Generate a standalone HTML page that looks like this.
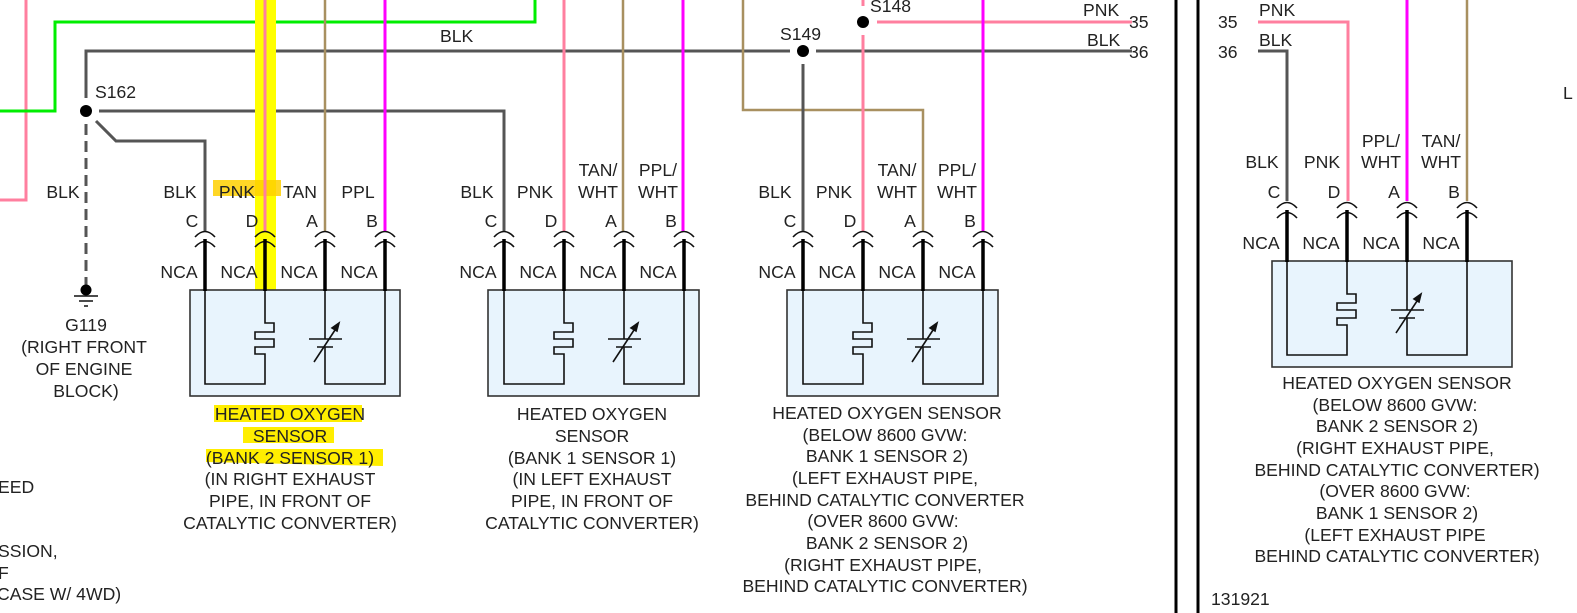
<!DOCTYPE html>
<html><head><meta charset="utf-8"><style>
html,body{margin:0;padding:0;background:#fff;width:1577px;height:613px;overflow:hidden}
svg{display:block}
text{font-family:"Liberation Sans",sans-serif;font-size:17.6px;fill:#222}
</style></head><body>
<svg width="1577" height="613" viewBox="0 0 1577 613" xmlns="http://www.w3.org/2000/svg">
<defs>
<g id="conn">
<path d="M-10,237 Q0,226 10,237 M-10,247 Q0,236 10,247" fill="none" stroke="#111" stroke-width="1.6"/>
<line x1="0" y1="239" x2="0" y2="291" stroke="#000" stroke-width="3.5"/>
</g>
<g id="inner" fill="none" stroke="#111" stroke-width="1.6">
<path d="M0,290 V384 H60 V354 H50 V347 H69 V339 H50 V332 H69 V323 H60 V290"/>
<path d="M120,290 V339 M120,347 V384 H180 V290"/>
<path d="M104,339 H137 M112,347 H128"/>
<path d="M109,362 L132,327"/>
<path d="M134,323 L127,328 L132,331 Z" fill="#111"/>
</g>
<g id="nca">
<text x="-26" y="278" text-anchor="middle">NCA</text>
<text x="34" y="278" text-anchor="middle">NCA</text>
<text x="94" y="278" text-anchor="middle">NCA</text>
<text x="154" y="278" text-anchor="middle">NCA</text>
<text x="-13" y="227" text-anchor="middle">C</text>
<text x="47" y="227" text-anchor="middle">D</text>
<text x="107" y="227" text-anchor="middle">A</text>
<text x="167" y="227" text-anchor="middle">B</text>
</g>
</defs>

<path d="M26,0 V200 H0" fill="none" stroke="#ff7f9f" stroke-width="3"/>
<path d="M0,111 H55 V22 H535 V0" fill="none" stroke="#00ee00" stroke-width="3"/>
<path d="M86,98 V51 H1132" fill="none" stroke="#555" stroke-width="3"/>
<path d="M99,111 H504 V231" fill="none" stroke="#555" stroke-width="3"/>
<path d="M96,121 L116,141 H205 V231" fill="none" stroke="#555" stroke-width="3"/>
<line x1="86" y1="124" x2="86" y2="285" stroke="#555" stroke-width="3" stroke-dasharray="11,6"/>
<circle cx="86" cy="111" r="6" fill="#000"/>
<circle cx="86" cy="290" r="5.5" fill="#000"/>
<path d="M74,296 H98 M79,301 H93 M84,306 H88" stroke="#111" stroke-width="1.5"/>

<rect x="255" y="0" width="21" height="290" fill="#ffff00"/>
<rect x="213" y="180" width="68" height="16" fill="#ffd000" opacity="0.85"/>
<line x1="265" y1="0" x2="265" y2="231" stroke="#ff7f9f" stroke-width="3"/>
<line x1="325" y1="0" x2="325" y2="231" stroke="#a89060" stroke-width="2.5"/>
<line x1="385" y1="0" x2="385" y2="231" stroke="#ff00ff" stroke-width="3"/>

<line x1="564" y1="0" x2="564" y2="231" stroke="#ff7f9f" stroke-width="3"/>
<line x1="623" y1="0" x2="623" y2="231" stroke="#a89060" stroke-width="2.5"/>
<line x1="683" y1="0" x2="683" y2="231" stroke="#ff00ff" stroke-width="3"/>

<path d="M743,0 V110 H923 V231" fill="none" stroke="#a89060" stroke-width="2.5"/>
<line x1="803" y1="64" x2="803" y2="231" stroke="#555" stroke-width="3"/>
<line x1="863" y1="0" x2="863" y2="10" stroke="#ff7f9f" stroke-width="3" stroke-dasharray="6,4"/>
<line x1="863" y1="35" x2="863" y2="231" stroke="#ff7f9f" stroke-width="3"/>
<line x1="877" y1="22" x2="1132" y2="22" stroke="#ff7f9f" stroke-width="3"/>
<line x1="983" y1="0" x2="983" y2="231" stroke="#ff00ff" stroke-width="3"/>
<rect x="790" y="44" width="26" height="14" fill="#fff"/>
<line x1="790" y1="51" x2="816" y2="51" stroke="#fff" stroke-width="5"/>
<circle cx="803" cy="51" r="6" fill="#000"/>
<rect x="850" y="12" width="26" height="20" fill="#fff"/>
<circle cx="863" cy="22" r="6" fill="#000"/>

<line x1="1176" y1="0" x2="1176" y2="613" stroke="#000" stroke-width="3"/>
<line x1="1198" y1="0" x2="1198" y2="613" stroke="#000" stroke-width="3"/>

<path d="M1258,22 H1348 V201" fill="none" stroke="#ff7f9f" stroke-width="3"/>
<path d="M1258,51 H1287 V201" fill="none" stroke="#555" stroke-width="3"/>
<line x1="1407" y1="0" x2="1407" y2="201" stroke="#ff00ff" stroke-width="3"/>
<line x1="1467" y1="0" x2="1467" y2="201" stroke="#a89060" stroke-width="2.5"/>

<g transform="translate(205,0)">
<rect x="-15" y="290" width="210" height="106" fill="#e8f4fd" stroke="#333" stroke-width="1.6"/>
<use href="#inner"/><use href="#conn"/><use href="#conn" x="60"/><use href="#conn" x="120"/><use href="#conn" x="180"/><use href="#nca"/>
</g>
<g transform="translate(504,0)">
<rect x="-16" y="290" width="211" height="106" fill="#e8f4fd" stroke="#333" stroke-width="1.6"/>
<use href="#inner"/><use href="#conn"/><use href="#conn" x="60"/><use href="#conn" x="120"/><use href="#conn" x="180"/><use href="#nca"/>
</g>
<g transform="translate(803,0)">
<rect x="-16" y="290" width="211" height="106" fill="#e8f4fd" stroke="#333" stroke-width="1.6"/>
<use href="#inner"/><use href="#conn"/><use href="#conn" x="60"/><use href="#conn" x="120"/><use href="#conn" x="180"/><use href="#nca"/>
</g>
<g transform="translate(1287,-29)">
<rect x="-15" y="290" width="240" height="106" fill="#e8f4fd" stroke="#333" stroke-width="1.6"/>
<use href="#inner"/><use href="#conn"/><use href="#conn" x="60"/><use href="#conn" x="120"/><use href="#conn" x="180"/><use href="#nca"/>
</g>

<text x="95" y="98">S162</text>
<text x="440" y="42">BLK</text>
<text x="780" y="40">S149</text>
<text x="870" y="12">S148</text>
<text x="1083" y="16">PNK</text>
<text x="1087" y="46">BLK</text>
<text x="1129" y="28">35</text>
<text x="1129" y="58">36</text>
<text x="1218" y="28">35</text>
<text x="1218" y="58">36</text>
<text x="1259" y="16">PNK</text>
<text x="1259" y="46">BLK</text>
<text x="1563" y="99">L</text>

<text x="63" y="198" text-anchor="middle">BLK</text>
<text x="180" y="198" text-anchor="middle">BLK</text>
<text x="237" y="198" text-anchor="middle">PNK</text>
<text x="300" y="198" text-anchor="middle">TAN</text>
<text x="358" y="198" text-anchor="middle">PPL</text>
<text x="477" y="198" text-anchor="middle">BLK</text>
<text x="535" y="198" text-anchor="middle">PNK</text>
<text x="598" y="176" text-anchor="middle">TAN/</text>
<text x="598" y="198" text-anchor="middle">WHT</text>
<text x="658" y="176" text-anchor="middle">PPL/</text>
<text x="658" y="198" text-anchor="middle">WHT</text>
<text x="775" y="198" text-anchor="middle">BLK</text>
<text x="834" y="198" text-anchor="middle">PNK</text>
<text x="897" y="176" text-anchor="middle">TAN/</text>
<text x="897" y="198" text-anchor="middle">WHT</text>
<text x="957" y="176" text-anchor="middle">PPL/</text>
<text x="957" y="198" text-anchor="middle">WHT</text>
<text x="1262" y="168" text-anchor="middle">BLK</text>
<text x="1322" y="168" text-anchor="middle">PNK</text>
<text x="1381" y="147" text-anchor="middle">PPL/</text>
<text x="1381" y="168" text-anchor="middle">WHT</text>
<text x="1441" y="147" text-anchor="middle">TAN/</text>
<text x="1441" y="168" text-anchor="middle">WHT</text>

<g text-anchor="middle">
<text x="86" y="331">G119</text>
<text x="84" y="353">(RIGHT FRONT</text>
<text x="84" y="375">OF ENGINE</text>
<text x="86" y="397">BLOCK)</text>
</g>

<path d="M214,405 H362 V422 H214 Z M243,427 H334 V443 H243 Z M206,449 H383 L383,466 L206,462 Z" fill="#ffee00"/>

<g text-anchor="middle">
<text x="290" y="420">HEATED OXYGEN</text>
<text x="290" y="442">SENSOR</text>
<text x="290" y="464">(BANK 2 SENSOR 1)</text>
<text x="290" y="485">(IN RIGHT EXHAUST</text>
<text x="290" y="507">PIPE, IN FRONT OF</text>
<text x="290" y="529">CATALYTIC CONVERTER)</text>

<text x="592" y="420">HEATED OXYGEN</text>
<text x="592" y="442">SENSOR</text>
<text x="592" y="464">(BANK 1 SENSOR 1)</text>
<text x="592" y="485">(IN LEFT EXHAUST</text>
<text x="592" y="507">PIPE, IN FRONT OF</text>
<text x="592" y="529">CATALYTIC CONVERTER)</text>

<text x="887" y="419">HEATED OXYGEN SENSOR</text>
<text x="885" y="441">(BELOW 8600 GVW:</text>
<text x="887" y="462">BANK 1 SENSOR 2)</text>
<text x="885" y="484">(LEFT EXHAUST PIPE,</text>
<text x="885" y="506">BEHIND CATALYTIC CONVERTER</text>
<text x="883" y="527">(OVER 8600 GVW:</text>
<text x="887" y="549">BANK 2 SENSOR 2)</text>
<text x="883" y="571">(RIGHT EXHAUST PIPE,</text>
<text x="885" y="592">BEHIND CATALYTIC CONVERTER)</text>

<text x="1397" y="389">HEATED OXYGEN SENSOR</text>
<text x="1395" y="411">(BELOW 8600 GVW:</text>
<text x="1397" y="432">BANK 2 SENSOR 2)</text>
<text x="1395" y="454">(RIGHT EXHAUST PIPE,</text>
<text x="1397" y="476">BEHIND CATALYTIC CONVERTER)</text>
<text x="1395" y="497">(OVER 8600 GVW:</text>
<text x="1397" y="519">BANK 1 SENSOR 2)</text>
<text x="1395" y="541">(LEFT EXHAUST PIPE</text>
<text x="1397" y="562">BEHIND CATALYTIC CONVERTER)</text>
</g>

<text x="-2" y="493">EED</text>
<text x="-2" y="557">SSION,</text>
<text x="-2" y="579">F</text>
<text x="-3" y="600">CASE W/ 4WD)</text>
<text x="1211" y="605">131921</text>
</svg>
</body></html>
